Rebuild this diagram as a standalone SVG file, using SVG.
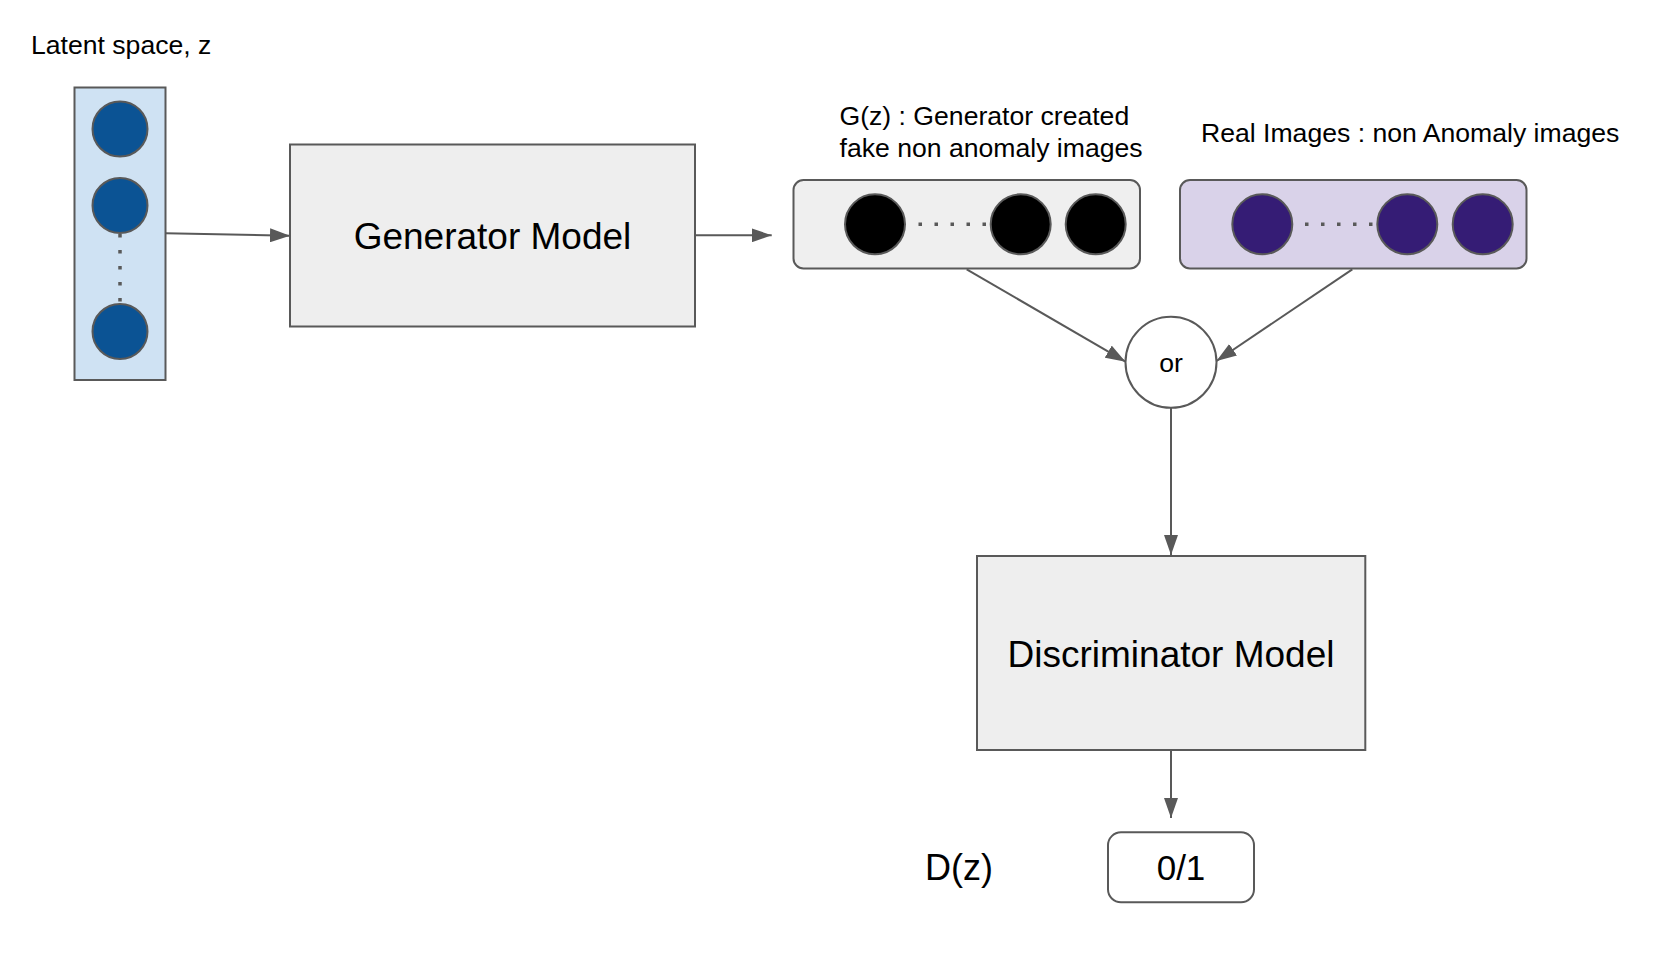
<svg xmlns="http://www.w3.org/2000/svg" width="1664" height="968" viewBox="0 0 1664 968">
  <defs>
    <style>
      .lbl { font-family: "Liberation Sans", Arial, sans-serif; fill: #000000; }
      .small { font-size: 26.6px; }
      .box { fill: #eeeeee; stroke: #595959; stroke-width: 2; }
      .edge { fill: none; stroke: #595959; stroke-width: 2; }
      .dots { fill: none; stroke: #595959; stroke-width: 3.5; stroke-dasharray: 3.5 12.5; }
      .ring { stroke: #595959; stroke-width: 2; }
    </style>
    <marker id="arrow" markerUnits="userSpaceOnUse" markerWidth="20" markerHeight="14" refX="20" refY="7" orient="auto" viewBox="0 0 20 14">
      <path d="M0,0 L20,7 L0,14 Z" fill="#595959"/>
    </marker>
  </defs>
  <rect width="1664" height="968" fill="#ffffff"/>

  <g id="latent-label">
    <text class="lbl small" x="31" y="54">Latent space, z</text>
  </g>

  <g id="latent-space">
    <rect x="74.5" y="87.5" width="91" height="292.5" fill="#cfe2f3" stroke="#595959" stroke-width="2"/>
    <circle class="ring" cx="120" cy="129" r="27.5" fill="#0b5394"/>
    <circle class="ring" cx="120" cy="205.5" r="27.5" fill="#0b5394"/>
    <line class="dots" x1="120" y1="234" x2="120" y2="304"/>
    <circle class="ring" cx="120" cy="331.5" r="27.5" fill="#0b5394"/>
  </g>

  <g id="generator">
    <rect class="box" x="290" y="144.5" width="405" height="182"/>
    <text class="lbl" x="492.5" y="249" font-size="37" text-anchor="middle">Generator Model</text>
  </g>

  <g id="fake-label">
    <text class="lbl small" x="839.5" y="125">G(z) : Generator created</text>
    <text class="lbl small" x="839.5" y="156.5">fake non anomaly images</text>
  </g>

  <g id="fake-images">
    <rect x="793.5" y="180" width="346.5" height="88.5" rx="10" ry="10" fill="#efefef" stroke="#595959" stroke-width="2"/>
    <circle class="ring" cx="875" cy="224.3" r="30" fill="#000000"/>
    <line class="dots" x1="918.5" y1="224.3" x2="990" y2="224.3"/>
    <circle class="ring" cx="1020.7" cy="224.3" r="30" fill="#000000"/>
    <circle class="ring" cx="1095.7" cy="224.3" r="30" fill="#000000"/>
  </g>

  <g id="real-label">
    <text class="lbl small" x="1201" y="141.5">Real Images : non Anomaly images</text>
  </g>

  <g id="real-images">
    <rect x="1180" y="180" width="346.5" height="88.5" rx="10" ry="10" fill="#d9d2e9" stroke="#595959" stroke-width="2"/>
    <circle class="ring" cx="1262.3" cy="224.3" r="30" fill="#351c75"/>
    <line class="dots" x1="1305" y1="224.3" x2="1376.5" y2="224.3"/>
    <circle class="ring" cx="1407.3" cy="224.3" r="30" fill="#351c75"/>
    <circle class="ring" cx="1482.7" cy="224.3" r="30" fill="#351c75"/>
  </g>

  <g id="or-node">
    <circle cx="1171" cy="362.3" r="45.5" fill="#ffffff" stroke="#595959" stroke-width="2"/>
    <text class="lbl" x="1171" y="371.5" font-size="26.6" text-anchor="middle">or</text>
  </g>

  <g id="discriminator">
    <rect class="box" x="977" y="556" width="388.3" height="194"/>
    <text class="lbl" x="1171" y="666.5" font-size="37" text-anchor="middle">Discriminator Model</text>
  </g>

  <g id="dz-label">
    <text class="lbl" x="925" y="880" font-size="36">D(z)</text>
  </g>

  <g id="output">
    <rect x="1108" y="832.3" width="146" height="70" rx="13" ry="13" fill="#ffffff" stroke="#595959" stroke-width="2"/>
    <text class="lbl" x="1181" y="880" font-size="35" text-anchor="middle">0/1</text>
  </g>

  <g id="connectors">
    <line class="edge" x1="165.5" y1="233.3" x2="290" y2="235.7" marker-end="url(#arrow)"/>
    <line class="edge" x1="695" y1="235.3" x2="771.7" y2="235.3" marker-end="url(#arrow)"/>
    <line class="edge" x1="966.7" y1="269.3" x2="1125.5" y2="361.7" marker-end="url(#arrow)"/>
    <line class="edge" x1="1352.3" y1="269.3" x2="1216.5" y2="361" marker-end="url(#arrow)"/>
    <line class="edge" x1="1171" y1="408" x2="1171" y2="555" marker-end="url(#arrow)"/>
    <line class="edge" x1="1171" y1="750" x2="1171" y2="818" marker-end="url(#arrow)"/>
  </g>
</svg>
